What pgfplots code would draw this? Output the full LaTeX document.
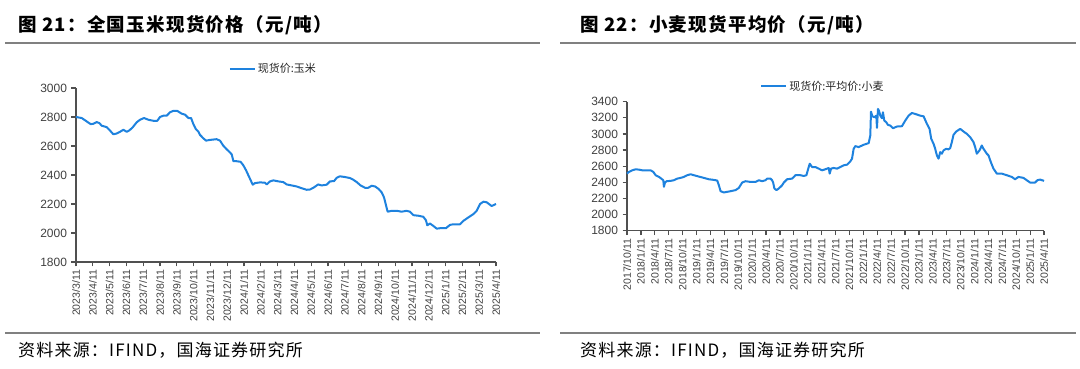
\documentclass[border=0pt]{standalone}
\usepackage{fontspec}
\usepackage{pgfplots}
\pgfplotsset{compat=1.18}
\setmainfont{Liberation Sans}
\newfontfamily\cjk{Noto Sans CJK SC}
\newfontfamily\cjkt{Noto Sans CJK SC}[LetterSpace=7]
\definecolor{lineblue}{RGB}{30,130,222}
\definecolor{axgray}{RGB}{80,80,80}
\definecolor{txtgray}{RGB}{64,64,64}
\definecolor{rulegray}{RGB}{128,128,128}
\pgfplotsset{
  mystyle/.style={
    scale only axis,
    axis lines=left,
    axis line style={-, draw=axgray, line width=1.4pt},
    tick align=outside,
    major tick length=4.5pt,
    tick style={draw=axgray, line width=1.2pt},
    /pgf/number format/assume math mode=true,
    /pgf/number format/1000 sep={},
    yticklabel style={font=\fontsize{12}{12}\selectfont, text=txtgray, xshift=-1pt},
    xticklabel style={font=\fontsize{10.5}{10.5}\selectfont, text=txtgray, rotate=90, anchor=east, xshift=0pt},
    legend style={draw=none, fill=none, font=\cjk\fontsize{11}{11}\selectfont, text=black!85, legend cell align=left},
    legend image code/.code={\draw[##1] (0pt,0pt) -- (25pt,0pt);},
    clip=false,
  },
  myline/.style={lineblue, line width=2pt, line join=round, no markers},
}
\begin{document}
\begin{tikzpicture}[x=1pt,y=1pt]
\useasboundingbox (0,0) rectangle (1080,369);
% titles and rules
\node[anchor=west, inner sep=0pt] at (18,344) {\cjkt\bfseries\fontsize{18.5}{18.5}\selectfont 图 21：全国玉米现货价格（元/吨）};
\node[anchor=west, inner sep=0pt] at (580,344) {\cjkt\bfseries\fontsize{18.5}{18.5}\selectfont 图 22：小麦现货平均价（元/吨）};
\draw[rulegray, line width=1.6pt] (5,326) -- (540,326);
\draw[rulegray, line width=1.6pt] (560,326) -- (1076,326);
\draw[rulegray, line width=1.6pt] (5,36) -- (540,36);
\draw[rulegray, line width=1.6pt] (560,36) -- (1076,36);
\node[anchor=west, inner sep=0pt] at (18,19) {\cjkt\fontsize{17}{17}\selectfont 资料来源：IFIND，国海证券研究所};
\node[anchor=west, inner sep=0pt] at (580,19) {\cjkt\fontsize{17}{17}\selectfont 资料来源：IFIND，国海证券研究所};

\begin{axis}[mystyle,
  at={(76pt,107pt)}, anchor=south west,
  width=420pt, height=174pt,
  xmin=0, xmax=25, ymin=1800, ymax=3000,
  ytick={1800,2000,...,3000},
  xtick={0,1,...,25},
  xticklabels={2023/3/11,2023/4/11,2023/5/11,2023/6/11,2023/7/11,2023/8/11,2023/9/11,2023/10/11,2023/11/11,2023/12/11,2024/1/11,2024/2/11,2024/3/11,2024/4/11,2024/5/11,2024/6/11,2024/7/11,2024/8/11,2024/9/11,2024/10/11,2024/11/11,2024/12/11,2025/1/11,2025/2/11,2025/3/11,2025/4/11},
  legend style={at={(0.47,1.109)}, anchor=center},
]
\addplot[myline] coordinates {
(0,2800)(0.34,2793)(0.63,2770)(0.87,2751)(1.03,2753)(1.23,2765)(1.39,2758)(1.53,2740)(1.83,2730)(2.02,2707)(2.22,2681)(2.42,2686)(2.62,2698)(2.82,2712)(3.02,2698)(3.17,2707)(3.37,2728)(3.61,2763)(3.81,2781)(4.05,2793)(4.31,2781)(4.60,2774)(4.84,2774)(5.00,2800)(5.20,2809)(5.40,2809)(5.60,2833)(5.79,2842)(6.03,2842)(6.29,2823)(6.49,2816)(6.69,2793)(6.85,2793)(6.98,2753)(7.14,2716)(7.28,2700)(7.38,2677)(7.58,2653)(7.74,2637)(7.98,2642)(8.37,2647)(8.57,2637)(8.77,2602)(8.97,2577)(9.13,2560)(9.27,2542)(9.37,2495)(9.56,2495)(9.80,2491)(9.96,2467)(10.12,2433)(10.26,2398)(10.40,2363)(10.52,2333)(10.65,2344)(10.95,2349)(11.25,2347)(11.35,2335)(11.55,2356)(11.75,2363)(12.04,2356)(12.34,2351)(12.54,2335)(12.84,2328)(13.13,2321)(13.43,2309)(13.73,2298)(13.93,2300)(14.13,2312)(14.42,2335)(14.62,2328)(14.92,2333)(15.12,2356)(15.36,2358)(15.52,2381)(15.71,2391)(16.01,2386)(16.31,2379)(16.51,2367)(16.71,2351)(16.94,2328)(17.20,2312)(17.40,2312)(17.60,2326)(17.80,2321)(18.00,2305)(18.19,2281)(18.33,2247)(18.45,2193)(18.55,2147)(18.79,2153)(19.09,2153)(19.38,2147)(19.68,2153)(19.88,2147)(20.08,2123)(20.38,2119)(20.67,2112)(20.83,2088)(20.91,2053)(21.07,2065)(21.27,2049)(21.47,2030)(21.67,2033)(22.02,2033)(22.26,2056)(22.46,2060)(22.86,2060)(23.06,2084)(23.35,2107)(23.65,2130)(23.85,2153)(24.05,2200)(24.25,2216)(24.44,2212)(24.74,2186)(25.00,2200)
};
\addlegendentry{现货价:玉米}
\end{axis}

\begin{axis}[mystyle,
  at={(627pt,138.3pt)}, anchor=south west,
  width=417pt, height=129pt,
  xmin=0, xmax=90, ymin=1800, ymax=3400,
  ytick={1800,2000,...,3400},
  xtick={0,3,...,90},
  xticklabels={2017/10/11,2018/1/11,2018/4/11,2018/7/11,2018/10/11,2019/1/11,2019/4/11,2019/7/11,2019/10/11,2020/1/11,2020/4/11,2020/7/11,2020/10/11,2021/1/11,2021/4/11,2021/7/11,2021/10/11,2022/1/11,2022/4/11,2022/7/11,2022/10/11,2023/1/11,2023/4/11,2023/7/11,2023/10/11,2024/1/11,2024/4/11,2024/7/11,2024/10/11,2025/1/11,2025/4/11},
  legend style={at={(0.47,1.12)}, anchor=center},
]
\addplot[myline] coordinates {
(0,2508)(0.43,2529)(1.15,2549)(1.87,2562)(2.59,2557)(3.30,2549)(4.02,2549)(5.10,2549)(5.68,2529)(6.18,2488)(6.90,2467)(7.40,2446)(7.83,2426)(7.97,2344)(8.19,2397)(8.55,2414)(9.41,2418)(10.13,2426)(10.85,2446)(11.57,2455)(12.28,2467)(13.00,2488)(13.72,2500)(14.44,2488)(15.52,2471)(16.59,2455)(17.67,2438)(18.75,2430)(19.47,2422)(19.83,2364)(20.19,2290)(20.91,2274)(21.62,2282)(22.34,2290)(23.42,2303)(24.14,2331)(24.86,2397)(25.57,2414)(26.65,2405)(27.73,2405)(28.45,2426)(29.17,2414)(29.89,2426)(30.24,2446)(30.96,2446)(31.32,2426)(31.54,2397)(31.82,2323)(32.26,2303)(32.76,2323)(33.48,2364)(33.84,2397)(34.55,2438)(35.63,2446)(36.35,2488)(37.43,2488)(38.15,2479)(38.72,2488)(39.22,2590)(39.44,2631)(39.94,2590)(40.66,2590)(41.38,2570)(42.10,2549)(42.82,2562)(43.53,2578)(43.75,2508)(44.04,2570)(44.61,2578)(45.33,2570)(46.05,2590)(46.77,2611)(47.49,2619)(48.20,2660)(48.56,2693)(48.92,2816)(49.28,2849)(50.00,2837)(51.08,2866)(52.16,2886)(52.51,2981)(52.66,3277)(52.95,3219)(53.38,3207)(53.81,3227)(53.95,3075)(54.17,3310)(54.38,3289)(54.67,3227)(55.03,3194)(55.24,3269)(55.53,3166)(55.96,3145)(56.32,3112)(56.82,3104)(57.40,3071)(58.26,3092)(59.34,3096)(60.06,3166)(60.78,3227)(61.49,3260)(62.21,3248)(63.29,3227)(64.01,3219)(64.73,3125)(65.30,3063)(65.66,2940)(66.16,2878)(66.52,2816)(66.88,2734)(67.24,2693)(67.60,2775)(67.96,2755)(68.32,2796)(68.89,2816)(69.40,2808)(69.76,2825)(70.11,2899)(70.47,2989)(71.05,3030)(71.91,3063)(72.63,3030)(73.35,3001)(74.07,2960)(74.78,2899)(75.14,2837)(75.50,2755)(76.08,2796)(76.58,2857)(76.94,2816)(77.66,2755)(78.02,2734)(78.52,2652)(79.09,2570)(79.81,2508)(80.89,2508)(81.97,2488)(83.05,2467)(83.76,2438)(84.48,2467)(85.56,2455)(86.28,2426)(87.00,2397)(88.07,2397)(88.58,2426)(89.15,2434)(90.01,2418)
};
\addlegendentry{现货价:平均价:小麦}
\end{axis}
\end{tikzpicture}
\end{document}
